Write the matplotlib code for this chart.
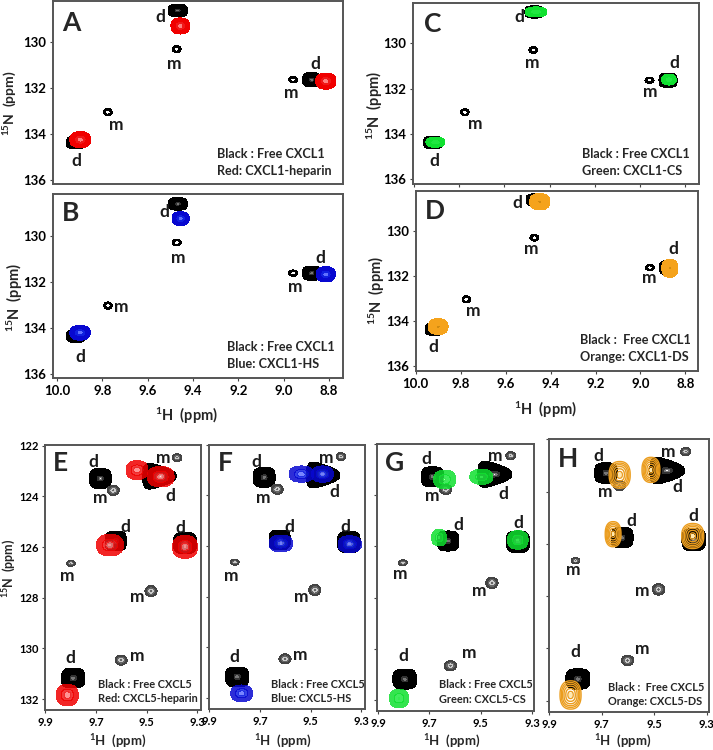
import numpy as np
import matplotlib
matplotlib.use('Agg')
import matplotlib.pyplot as plt

plt.rcParams['font.family'] = ['Lato', 'DejaVu Sans']
plt.rcParams['mathtext.default'] = 'regular'

W = 713
H = 750

# free CXCL1 peaks (1H, 15N, half widths) - first 3 are the dimer ones
free1_x = [9.467, 8.876, 9.916, 9.472, 8.958, 9.775]
free1_y = [128.62, 131.63, 134.37, 130.3, 131.63, 133.04]
free1_w = [0.042, 0.040, 0.042, 0.020, 0.020, 0.019]
free1_h = [0.27, 0.31, 0.27, 0.15, 0.14, 0.16]

# free CXCL5 peaks - first 5 are the dimer ones
free5_x = [9.683, 9.45, 9.622, 9.349, 9.79, 9.632, 9.38, 9.799, 9.483, 9.601]
free5_y = [123.29, 123.2, 125.76, 125.84, 131.17, 123.76, 122.47, 126.64, 127.74, 130.46]
free5_w = [0.043, 0.066, 0.042, 0.045, 0.046, 0.024, 0.019, 0.017, 0.024, 0.024]
free5_h = [0.39, 0.42, 0.39, 0.42, 0.39, 0.2, 0.16, 0.12, 0.22, 0.2]
free5_t = [0, 0.5, 0, 0, 0, 0, 0, 0, 0, 0]

# G was shifted a bit against the others
free5g_x = [9.688, 9.445, 9.627, 9.355, 9.796, 9.636, 9.383, 9.803, 9.456, 9.618]
free5g_y = [123.29, 123.19, 125.79, 125.82, 131.17, 123.78, 122.47, 126.64, 127.42, 130.65]

# bound peaks
red1_x = [9.456, 8.814, 9.897]
red1_y = [129.29, 131.69, 134.24]
red1_w = [0.041, 0.045, 0.046]
red1_h = [0.35, 0.35, 0.35]
blue1_x = [9.454, 8.814, 9.898]
blue1_y = [129.26, 131.68, 134.22]
blue1_w = [0.038, 0.042, 0.045]
blue1_h = [0.3, 0.33, 0.32]
green1_x = [9.46, 8.872, 9.905]
green1_y = [128.62, 131.6, 134.36]
green1_w = [0.048, 0.032, 0.042]
green1_h = [0.22, 0.24, 0.22]
orange1_x = [9.448, 8.869, 9.9]
orange1_y = [128.7, 131.66, 134.25]
orange1_w = [0.045, 0.036, 0.044]
orange1_h = [0.36, 0.4, 0.35]

red5_x = [9.538, 9.445, 9.645, 9.349, 9.813]
red5_y = [122.96, 123.22, 125.92, 125.99, 131.84]
red5_w = [0.043, 0.053, 0.053, 0.049, 0.043]
red5_h = [0.37, 0.4, 0.42, 0.45, 0.42]
blue5_x = [9.536, 9.453, 9.617, 9.345, 9.772]
blue5_y = [123.16, 123.16, 125.9, 125.93, 131.82]
blue5_w = [0.049, 0.043, 0.046, 0.046, 0.043]
blue5_h = [0.32, 0.32, 0.33, 0.33, 0.33]
green5_x = [9.64, 9.497, 9.662, 9.355, 9.818]
green5_y = [123.39, 123.29, 125.66, 125.75, 131.92]
green5_w = [0.043, 0.045, 0.029, 0.04, 0.037]
green5_h = [0.36, 0.29, 0.32, 0.36, 0.36]
orange5_x = [9.631, 9.512, 9.656, 9.353, 9.818]
orange5_y = [123.36, 123.17, 125.63, 125.7, 131.78]
orange5_w = [0.04, 0.034, 0.03, 0.042, 0.04]
orange5_h = [0.51, 0.48, 0.48, 0.48, 0.54]

# d / m labels of each panel
labels1 = ['d', 'm', 'd', 'm', 'm', 'd']
labels5 = ['d', 'm', 'm', 'd', 'd', 'd', 'm', 'm', 'm', 'd']
lab_a_x = [9.545, 9.482, 8.858, 8.967, 9.74, 9.916]
lab_a_y = [128.9, 130.94, 130.94, 132.2, 133.58, 135.19]
lab_b_x = [9.527, 9.465, 8.84, 8.95, 9.718, 9.898]
lab_b_y = [128.96, 130.98, 130.98, 132.23, 133.09, 135.26]
lab_c_x = [9.535, 9.475, 8.848, 8.956, 9.731, 9.91]
lab_c_y = [128.83, 130.88, 130.88, 132.16, 133.57, 135.2]
lab_d_x = [9.547, 9.485, 8.854, 8.963, 9.742, 9.923]
lab_d_y = [128.77, 130.81, 130.81, 132.09, 133.54, 135.17]
lab_e_x = [9.709, 9.435, 9.684, 9.407, 9.583, 9.369, 9.812, 9.538, 9.538, 9.801]
lab_e_y = [122.63, 122.5, 124.08, 123.99, 125.2, 125.24, 127.14, 127.96, 130.28, 130.36]
lab_f_x = [9.713, 9.437, 9.687, 9.408, 9.584, 9.362, 9.814, 9.538, 9.542, 9.803]
lab_f_y = [122.67, 122.54, 124.12, 123.87, 125.24, 125.24, 127.17, 128.0, 130.3, 130.39]
lab_g_x = [9.712, 9.442, 9.688, 9.413, 9.586, 9.352, 9.812, 9.506, 9.543, 9.803]
lab_g_y = [122.61, 122.48, 124.04, 123.94, 125.17, 125.08, 127.08, 127.73, 130.17, 130.26]
lab_h_x = [9.712, 9.445, 9.685, 9.413, 9.588, 9.351, 9.809, 9.546, 9.546, 9.799]
lab_h_y = [122.62, 122.49, 124.03, 123.81, 125.11, 124.93, 127.0, 127.8, 130.02, 130.12]

ticks1_x = [10.0, 9.8, 9.6, 9.4, 9.2, 9.0, 8.8]
ticks1_y = [130, 132, 134, 136]
ticks5_x = [9.9, 9.7, 9.5, 9.3]
ticks5_y = [122, 124, 126, 128, 130, 132]

RAMPS = {
    'black': ([0, 0.08, 0.2, 0.35, 1], ['white', '#777777', '#333333', 'black']),
    'ring': ([0, 0.15, 0.55, 1], ['#444444', 'white', 'black']),
    'grey': ([0, 0.12, 0.3, 0.55, 0.8, 1], ['white', '#666666', '#cccccc', '#666666', '#444444']),
    'red': ([0, 0.08, 0.3, 0.55, 1], ['white', '#ff8080', '#f01818', '#f00000']),
    'blue': ([0, 0.08, 0.3, 0.55, 1], ['white', '#6070ff', '#1020e0', '#0808d0']),
    'green': ([0, 0.1, 0.5, 1], ['#a0ffa0', '#20e840', '#10e030']),
    'orange': ([0, 0.08, 0.2, 1], ['#553300', '#d08a10', '#f5a31c']),
}


def panel(l, r, t, b, xlim, ylim, xt, yt, show_x=True, show_y=True, fs=9.5):
    ax = fig.add_axes([l / W, 1 - b / H, (r - l) / W, (b - t) / H])
    ax.set_xlim(xlim)
    ax.set_ylim(ylim)
    ax.set_xticks(xt)
    ax.set_yticks(yt)
    ax.set_xticklabels([f'{v:.1f}' for v in xt] if show_x else [], fontsize=fs, fontweight='bold')
    ax.set_yticklabels([str(v) for v in yt] if show_y else [], fontsize=fs, fontweight='bold')
    ax.tick_params(length=2, width=0.8, color='#444444', pad=3)
    for s in ax.spines.values():
        s.set_color('#555555')
        s.set_linewidth(1.4)
    ax.patch.set_alpha(0)
    return ax


def peak(ax, x, y, w, h, style, p=2.2, taper=0, alpha=1.0):
    gx = np.linspace(x - 1.4 * w, x + 1.4 * w, 101)
    gy = np.linspace(y - 1.4 * h, y + 1.4 * h, 101)
    X, Y = np.meshgrid(gx, gy)
    dx = (X - x) / w
    # x axis runs backwards so -dx is to the right on the page
    dy = (Y - y) / (h * np.clip(1 + taper * dx, 0.12, 2))
    f = (np.abs(dx) ** p + np.abs(dy) ** p) ** (1 / p)
    if style == 'lines':
        ax.contourf(X, Y, f, levels=[0, 0.12], colors=['#ffe9b0'])
        ax.contour(X, Y, f, levels=[0.25, 0.45, 0.62, 0.76, 0.88, 1.0],
                   colors='#eb9d1e', linewidths=1.0)
        return
    lev, col = RAMPS[style]
    ax.contourf(X, Y, f, levels=lev, colors=col, alpha=alpha)


def free1(ax):
    for i in range(6):
        if i < 3:
            peak(ax, free1_x[i], free1_y[i], free1_w[i], free1_h[i], 'black', p=3.2)
        else:
            peak(ax, free1_x[i], free1_y[i], free1_w[i], free1_h[i], 'ring', p=2)


def free5(ax, xs, ys):
    for i in range(10):
        if i < 5:
            peak(ax, xs[i], ys[i], free5_w[i], free5_h[i], 'black', p=3.2, taper=free5_t[i])
        else:
            peak(ax, xs[i], ys[i], free5_w[i], free5_h[i], 'grey', p=2)


def bound(ax, xs, ys, ws, hs, style, alpha=1.0, p=2.4):
    for i in range(len(xs)):
        peak(ax, xs[i], ys[i], ws[i], hs[i], style, p=p, alpha=alpha)


def marks(ax, names, xs, ys):
    for n, x, y in zip(names, xs, ys):
        ax.text(x, y, n, fontsize=12.5, fontweight='bold', color='#1a1a1a', ha='center', va='center')


def txt(px, py, s, fs=9.1, weight='bold', **kw):
    fig.text(px / W, 1 - py / H, s, fontsize=fs, fontweight=weight, color='#262626', va='center', **kw)


fig = plt.figure(figsize=(W / 100, H / 100), dpi=100)

# CXCL1 panels
ax = panel(53.3, 343, 0.7, 184, (10.016, 8.738), (136.17, 128.19), ticks1_x, ticks1_y, show_x=False)
ax.tick_params(axis='x', length=0)
free1(ax)
bound(ax, red1_x, red1_y, red1_w, red1_h, 'red')
marks(ax, labels1, lab_a_x, lab_a_y)
txt(62, 23, 'A', fs=19)
txt(216.7, 154, 'Black : Free CXCL1')
txt(216.7, 171.3, 'Red: CXCL1-heparin')
txt(10, 103, r'$^{15}$N  (ppm)', fs=10, rotation=90, ha='center')

ax = panel(53.3, 343, 194, 378.3, (10.016, 8.738), (136.2, 128.19), ticks1_x, ticks1_y)
free1(ax)
bound(ax, blue1_x, blue1_y, blue1_w, blue1_h, 'blue')
marks(ax, labels1, lab_b_x, lab_b_y)
txt(62, 212.7, 'B', fs=19)
txt(226.7, 347.3, 'Black : Free CXCL1')
txt(226.7, 364.3, 'Blue: CXCL1-HS')
txt(15, 297, r'$^{15}$N  (ppm)', fs=10.5, rotation=90, ha='center')
txt(187, 415.7, r'$^{1}$H  (ppm)', fs=10.5, ha='center')

ax = panel(413.3, 699, 3.3, 184, (10.003, 8.739), (136.2, 128.24), ticks1_x, ticks1_y, show_x=False)
free1(ax)
bound(ax, green1_x, green1_y, green1_w, green1_h, 'green')
marks(ax, labels1, lab_c_x, lab_c_y)
txt(424, 24, 'C', fs=19)
txt(581.7, 154.3, 'Black : Free CXCL1')
txt(581.7, 171.3, 'Green: CXCL1-CS')
txt(375, 105, r'$^{15}$N  (ppm)', fs=10.5, rotation=90, ha='center')

ax = panel(415.7, 698, 190.7, 370.7, (10.0, 8.744), (136.21, 128.21), ticks1_x, ticks1_y)
free1(ax)
bound(ax, orange1_x, orange1_y, orange1_w, orange1_h, 'orange')
marks(ax, labels1, lab_d_x, lab_d_y)
txt(425, 211, 'D', fs=19)
txt(580, 340, 'Black :  Free CXCL1')
txt(580, 356.7, 'Orange: CXCL1-DS')
txt(377, 290, r'$^{15}$N  (ppm)', fs=10.5, rotation=90, ha='center')
txt(546, 410, r'$^{1}$H  (ppm)', fs=10.5, ha='center')

# CXCL5 panels
ax = panel(45.3, 200.7, 445.3, 710, (9.9, 9.287), (132.43, 121.98), ticks5_x, ticks5_y, fs=8)
free5(ax, free5_x, free5_y)
bound(ax, red5_x, red5_y, red5_w, red5_h, 'red', alpha=0.85)
marks(ax, labels5, lab_e_x, lab_e_y)
txt(53, 463, 'E', fs=19)
txt(98.3, 684.3, 'Black : Free CXCL5', fs=7.9)
txt(98.3, 699, 'Red: CXCL5-heparin', fs=7.9)
txt(9, 568, r'$^{15}$N  (ppm)', fs=9, rotation=90, ha='center')
txt(118, 741, r'$^{1}$H  (ppm)', fs=9.5, ha='center')

ax = panel(209.3, 364.7, 444.7, 709.3, (9.9, 9.286), (132.45, 122.0), ticks5_x, ticks5_y, show_y=False, fs=8)
free5(ax, free5_x, free5_y)
bound(ax, blue5_x, blue5_y, blue5_w, blue5_h, 'blue', alpha=0.85)
marks(ax, labels5, lab_f_x, lab_f_y)
txt(218, 463, 'F', fs=19)
txt(270.7, 684.3, 'Black : Free CXCL5', fs=7.9)
txt(270.7, 699, 'Blue: CXCL5-HS', fs=7.9)
txt(282.7, 741, r'$^{1}$H  (ppm)', fs=9.5, ha='center')

ax = panel(376.7, 534.3, 443.7, 710.7, (9.905, 9.291), (132.4, 122.0), ticks5_x, ticks5_y, show_y=False, fs=8)
free5(ax, free5g_x, free5g_y)
bound(ax, green5_x, green5_y, green5_w, green5_h, 'green', alpha=0.85)
marks(ax, labels5, lab_g_x, lab_g_y)
txt(385, 463, 'G', fs=19)
txt(439, 685, 'Black : Free CXCL5', fs=7.9)
txt(439, 699.3, 'Green: CXCL5-CS', fs=7.9)
txt(451.7, 741, r'$^{1}$H  (ppm)', fs=9.5, ha='center')

ax = panel(549, 709, 439.3, 711.7, (9.897, 9.291), (132.42, 122.0), ticks5_x, ticks5_y, show_y=False, fs=8)
free5(ax, free5_x, free5_y)
bound(ax, orange5_x, orange5_y, orange5_w, orange5_h, 'lines')
marks(ax, labels5, lab_h_x, lab_h_y)
txt(558, 459, 'H', fs=19)
txt(608.3, 687.3, 'Black :  Free CXCL5', fs=7.9)
txt(608.3, 701.7, 'Orange: CXCL5-DS', fs=7.9)
txt(623, 741, r'$^{1}$H  (ppm)', fs=9.5, ha='center')

fig.savefig('out.png', dpi=100)
